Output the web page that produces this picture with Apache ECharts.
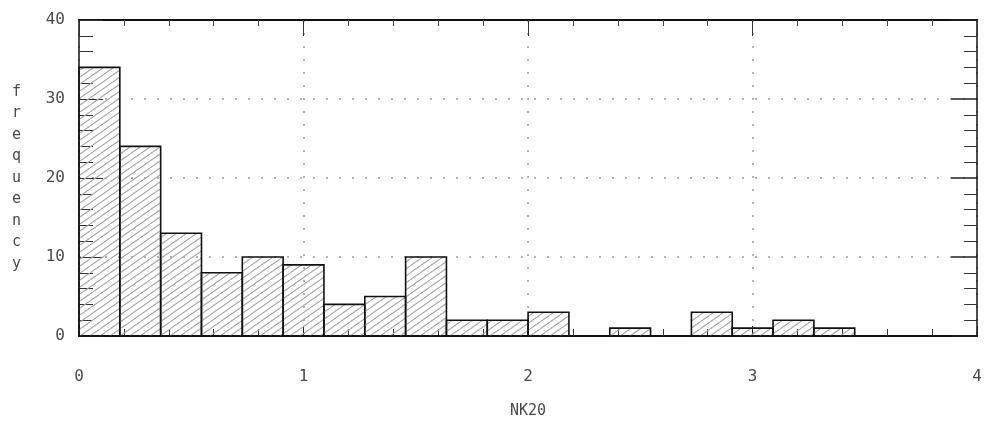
<!DOCTYPE html>
<html>
<head>
<meta charset="utf-8">
<script src="https://cdn.jsdelivr.net/npm/echarts@6/dist/echarts.min.js"></script>
<style>
  html, body { margin: 0; padding: 0; background: #fff; }
  #chart { width: 985px; height: 426px; }
</style>
</head>
<body>
<div id="chart"></div>
<script>
// Histogram of NK20: bin edges start at 0 with a fixed width
const binStart = 0;
const binWidth = 4 / 22;
const counts = [34, 24, 13, 8, 10, 9, 4, 5, 10, 2, 2, 3, 0, 1, 0, 3, 1, 2, 1];

const xTicks = [0, 1, 2, 3, 4];
const yTicks = [0, 10, 20, 30, 40];
const xTitle = 'NK20';
const yTitle = 'frequency';

// diagonal hatching used to fill the bars
function hatch() {
  const c = document.createElement('canvas');
  c.width = 10; c.height = 7;
  const g = c.getContext('2d');
  g.strokeStyle = '#a8a8a8';
  g.lineWidth = 1.2;
  for (let k = -1; k <= 1; k++) {
    g.beginPath();
    g.moveTo(k * 10, 7);
    g.lineTo(k * 10 + 10, 0);
    g.stroke();
  }
  return c;
}

const bins = counts.map((v, i) => [binStart + i * binWidth, binStart + (i + 1) * binWidth, v]);

const font = 'DejaVu Sans Mono';
const txt = '#4a4a4a';
const dotted = { color: '#9a9a9a', type: [2, 11], width: 1.5 };

const chart = echarts.init(document.getElementById('chart'), null, { renderer: 'canvas' });
chart.setOption({
  animation: false,
  backgroundColor: '#fff',
  grid: { left: 79, right: 5, top: 20, bottom: 90 },
  xAxis: [{
    type: 'value', min: xTicks[0], max: xTicks[xTicks.length - 1], interval: 1,
    position: 'bottom',
    name: xTitle, nameLocation: 'middle', nameGap: 68,
    nameTextStyle: { fontFamily: font, fontSize: 15, color: txt },
    axisLine: { show: true, onZero: false, lineStyle: { color: '#111', width: 2 } },
    axisTick: { show: true, inside: true, length: 10, lineStyle: { color: '#222' } },
    minorTick: { show: true, splitNumber: 5, length: 7, lineStyle: { color: '#333' } },
    axisLabel: { fontFamily: font, fontSize: 16, color: txt, margin: 33 },
    splitLine: { show: true, lineStyle: dotted }
  }, {
    type: 'value', min: xTicks[0], max: xTicks[xTicks.length - 1], interval: 1,
    position: 'top',
    axisLine: { show: true, onZero: false, lineStyle: { color: '#111', width: 2 } },
    axisTick: { show: true, inside: true, length: 16, lineStyle: { color: '#333' } },
    minorTick: { show: true, splitNumber: 5, length: 6, lineStyle: { color: '#444' } },
    axisLabel: { show: false },
    splitLine: { show: false }
  }],
  yAxis: [{
    type: 'value', min: yTicks[0], max: yTicks[yTicks.length - 1], interval: 10,
    position: 'left',
    name: yTitle.split('').join('\n'), nameLocation: 'middle', nameGap: 58, nameRotate: 0,
    nameTextStyle: { fontFamily: font, fontSize: 15, color: txt, lineHeight: 21.5, padding: [10, 0, 0, 0] },
    axisLine: { show: true, onZero: false, lineStyle: { color: '#111', width: 1.5 } },
    axisTick: { show: true, inside: true, length: 24, lineStyle: { color: '#333' } },
    minorTick: { show: true, splitNumber: 5, length: 14, lineStyle: { color: '#333' } },
    axisLabel: { fontFamily: font, fontSize: 16, color: txt, margin: 14 },
    splitLine: { show: true, lineStyle: dotted }
  }, {
    type: 'value', min: yTicks[0], max: yTicks[yTicks.length - 1], interval: 10,
    position: 'right',
    axisLine: { show: true, onZero: false, lineStyle: { color: '#111', width: 1.5 } },
    axisTick: { show: true, inside: true, length: 26, lineStyle: { color: '#222', width: 1.5 } },
    minorTick: { show: true, splitNumber: 5, length: 13, lineStyle: { color: '#333' } },
    axisLabel: { show: false },
    splitLine: { show: false }
  }],
  series: [{
    type: 'custom',
    xAxisIndex: 0, yAxisIndex: 0,
    data: bins,
    encode: { x: [0, 1], y: 2 },
    z: 5,
    renderItem: function (params, api) {
      const v = api.value(2);
      if (!v) return null;
      const p0 = api.coord([api.value(0), v]);
      const p1 = api.coord([api.value(1), 0]);
      return {
        type: 'rect',
        shape: { x: p0[0], y: p0[1], width: p1[0] - p0[0], height: p1[1] - p0[1] },
        style: {
          fill: { image: hatch(), repeat: 'repeat' },
          stroke: '#111',
          lineWidth: 1.6
        }
      };
    }
  }]
});
</script>
</body>
</html>
